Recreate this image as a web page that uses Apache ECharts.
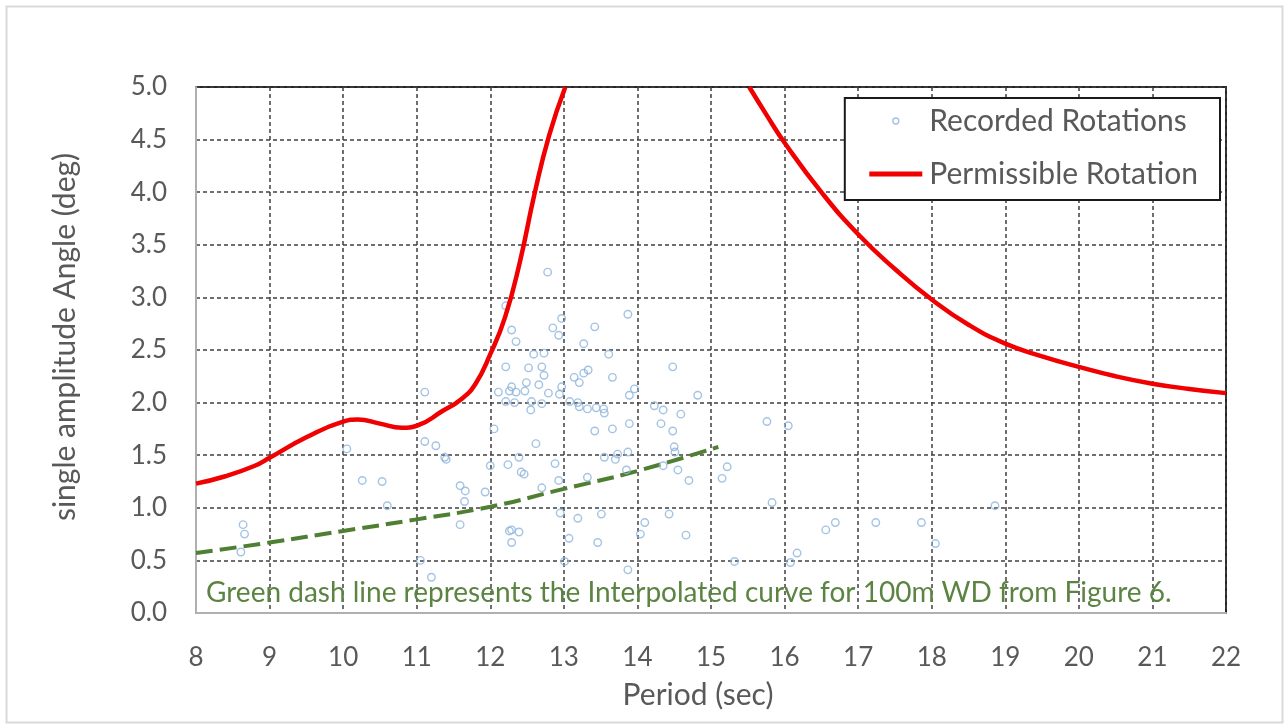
<!DOCTYPE html>
<html lang="en">
<head>
    <meta charset="UTF-8">
    <title>Recorded vs Permissible Rotation</title>
    <script src="https://cdn.jsdelivr.net/npm/echarts@6/dist/echarts.min.js"></script>
    <style>
        * { box-sizing: border-box; margin: 0; padding: 0; }
        body { background: #ffffff; }
        #chart-container { width: 1284px; height: 725px; }
    </style>
</head>
<body>
    <div id="chart-container"></div>

    <script type="text/javascript">
        // x axis: period (sec), y axis: single amplitude angle (deg)
        const xTicks = { min: 8, max: 22, step: 1 };
        const yTicks = { min: 0, max: 5, step: 0.5 };

        // Recorded rotations [period, angle]
        const recorded = [
            [8.64, 0.84], [8.66, 0.75], [8.61, 0.58],
            [10.05, 1.56], [10.26, 1.26], [10.53, 1.25], [10.60, 1.02],
            [11.11, 2.10], [11.11, 1.63], [11.26, 1.59], [11.38, 1.48], [11.40, 1.46], [11.05, 0.50], [11.20, 0.34],
            [11.59, 1.21], [11.66, 1.16], [11.65, 1.06], [11.59, 0.84], [11.93, 1.15], [12.00, 1.40],
            [12.78, 3.24], [12.21, 2.92], [13.87, 2.84], [12.97, 2.80], [12.29, 2.69], [12.85, 2.71], [12.93, 2.64], [13.42, 2.72],
            [12.35, 2.58], [13.27, 2.56], [12.59, 2.46], [12.73, 2.47], [13.61, 2.46],
            [12.21, 2.34], [12.52, 2.33], [12.70, 2.34], [12.73, 2.26], [13.33, 2.31], [13.27, 2.28], [13.14, 2.24], [13.21, 2.19], [13.66, 2.24], [14.48, 2.34],
            [12.49, 2.19], [12.66, 2.17], [12.11, 2.10], [12.26, 2.11], [12.35, 2.10], [12.47, 2.11], [12.29, 2.15], [12.79, 2.09], [12.97, 2.15], [12.94, 2.08], [13.89, 2.07], [13.96, 2.13], [14.82, 2.07],
            [12.21, 2.01], [12.33, 2.00], [12.55, 1.93], [12.56, 2.01], [12.70, 1.99], [13.08, 2.01], [13.19, 2.00], [13.21, 1.96], [13.32, 1.94], [13.44, 1.95], [13.54, 1.94], [13.55, 1.90], [14.23, 1.97], [14.35, 1.93], [14.59, 1.89],
            [14.32, 1.80], [13.89, 1.80], [12.05, 1.75], [13.42, 1.73], [13.66, 1.75], [14.48, 1.73],
            [12.62, 1.61], [14.50, 1.58], [14.51, 1.53], [13.55, 1.48], [13.70, 1.46], [13.87, 1.53], [13.73, 1.51], [12.39, 1.48], [12.24, 1.41],
            [12.88, 1.42], [12.42, 1.34], [12.46, 1.32], [13.85, 1.36], [14.35, 1.40], [14.55, 1.36], [14.70, 1.26], [15.22, 1.39], [15.15, 1.28], [13.32, 1.29], [12.93, 1.26], [12.70, 1.19],
            [12.95, 0.95], [13.19, 0.90], [13.51, 0.94], [14.43, 0.94], [14.10, 0.86], [12.26, 0.78], [12.29, 0.79], [12.39, 0.77], [12.29, 0.67], [14.04, 0.75], [14.66, 0.74], [13.07, 0.71], [13.46, 0.67],
            [13.01, 0.49], [13.87, 0.41], [15.32, 0.49],
            [15.76, 1.82], [16.05, 1.78], [15.83, 1.05], [16.56, 0.79], [16.69, 0.86], [17.24, 0.86], [17.86, 0.86], [18.05, 0.66], [18.86, 1.02], [16.08, 0.48], [16.17, 0.57]
        ];

        // Permissible rotation curve, two branches (it leaves the top of the chart between them)
        const permissibleLeft = [
            [8.0, 1.23], [8.4, 1.30], [8.8, 1.40], [9.0, 1.475], [9.5, 1.67], [10.0, 1.82], [10.2, 1.84],
            [10.5, 1.80], [10.8, 1.76], [11.0, 1.78], [11.35, 1.92], [11.6, 2.03], [11.8, 2.18], [12.0, 2.46],
            [12.2, 2.81], [12.4, 3.33], [12.6, 3.98], [12.8, 4.54], [13.02, 5.0]
        ];
        const permissibleRight = [
            [15.52, 5.0], [15.75, 4.74], [16.0, 4.47], [16.5, 4.0], [17.0, 3.6], [17.5, 3.27], [18.0, 2.98],
            [18.5, 2.74], [19.0, 2.56], [19.5, 2.44], [20.0, 2.34], [20.5, 2.25], [21.0, 2.18], [21.5, 2.13], [22.0, 2.09]
        ];

        // Interpolated curve for 100m WD (green dash)
        const interpolated = [
            [8, 0.57], [9, 0.67], [10, 0.78], [11, 0.89], [12, 1.01], [13, 1.18], [14, 1.35], [15.1, 1.58]
        ];

        const noteText = 'Green dash line represents the Interpolated curve for 100m WD from Figure 6.';

        const font = 'Lato, "Open Sans", sans-serif';
        const textGrey = '#595959';
        const red = '#f00000';
        const pointBlue = '#8db4dc';
        const gridLine = { show: true, lineStyle: { type: [4, 3], color: '#404040', width: 1.5 } };

        // small hollow circle for the legend, so the legend row can stay tall enough for a thick red line
        const dotIcon = 'image://data:image/svg+xml;utf8,' + encodeURIComponent(
            '<svg xmlns="http://www.w3.org/2000/svg" width="16" height="16">' +
            '<circle cx="8" cy="8" r="3" fill="none" stroke="' + pointBlue + '" stroke-width="1.4"/></svg>'
        );

        const chart = echarts.init(document.getElementById('chart-container'));

        chart.setOption({
            animation: false,
            textStyle: { fontFamily: font },
            grid: {
                left: 196, right: 58, top: 87, bottom: 112,
                show: true, borderColor: '#262626', borderWidth: 2
            },
            title: {
                text: noteText,
                left: 201, top: 574,
                textStyle: { color: '#5b8443', fontSize: 28, fontWeight: 'normal', fontFamily: font }
            },
            legend: {
                orient: 'vertical',
                right: 64, top: 98,
                backgroundColor: '#ffffff',
                borderColor: '#1a1a1a', borderWidth: 2,
                padding: [8, 22, 11, 22],
                itemWidth: 53, itemHeight: 16, itemGap: 23,
                textStyle: { color: textGrey, fontSize: 30, fontFamily: font, padding: [0, 0, 0, 2] },
                data: [
                    { name: 'Recorded Rotations', icon: dotIcon },
                    { name: 'Permissible Rotation', itemStyle: { opacity: 0 }, lineStyle: { width: 5, color: red } }
                ]
            },
            xAxis: {
                type: 'value',
                min: xTicks.min, max: xTicks.max, interval: xTicks.step,
                name: 'Period (sec)', nameLocation: 'middle', nameGap: 67,
                nameTextStyle: { color: textGrey, fontSize: 30, padding: [0, 26, 0, 0] },
                axisLine: { show: true, lineStyle: { color: '#b0b0b0', width: 2 } },
                axisTick: { show: false },
                axisLabel: { color: textGrey, fontSize: 26, margin: 32 },
                splitLine: gridLine
            },
            yAxis: {
                type: 'value',
                min: yTicks.min, max: yTicks.max, interval: yTicks.step,
                name: 'single amplitude Angle (deg)', nameLocation: 'middle', nameGap: 116,
                nameTextStyle: { color: textGrey, fontSize: 30, padding: [0, 0, 0, 26] },
                axisLine: { show: true, lineStyle: { color: '#b0b0b0', width: 2 } },
                axisTick: { show: false },
                axisLabel: { color: textGrey, fontSize: 26, margin: 29, formatter: v => v.toFixed(1) },
                splitLine: gridLine
            },
            graphic: [{
                type: 'rect', left: 4, top: 4, silent: true,
                shape: { width: 1276, height: 716 },
                style: { fill: 'none', stroke: '#d9d9d9', lineWidth: 2 }
            }],
            series: [
                {
                    name: 'Interpolated 100m WD',
                    type: 'line', data: interpolated, smooth: true, symbol: 'none',
                    lineStyle: { color: '#4f7f33', width: 4, type: [17, 7] },
                    z: 3
                },
                {
                    name: 'Recorded Rotations',
                    type: 'scatter', data: recorded,
                    symbol: 'circle', symbolSize: 7.5,
                    itemStyle: { color: 'rgba(255,255,255,0)', borderColor: pointBlue, borderWidth: 1.4 },
                    z: 4
                },
                {
                    name: 'Permissible Rotation',
                    type: 'line', data: permissibleLeft, smooth: true, symbol: 'none',
                    itemStyle: { color: red },
                    lineStyle: { color: red, width: 4.5 },
                    z: 5
                },
                {
                    name: 'Permissible Rotation',
                    type: 'line', data: permissibleRight, smooth: true, symbol: 'none',
                    itemStyle: { color: red },
                    lineStyle: { color: red, width: 4.5 },
                    z: 5
                }
            ]
        });

        window.addEventListener('resize', function() {
            chart.resize();
        });
    </script>
</body>
</html>
